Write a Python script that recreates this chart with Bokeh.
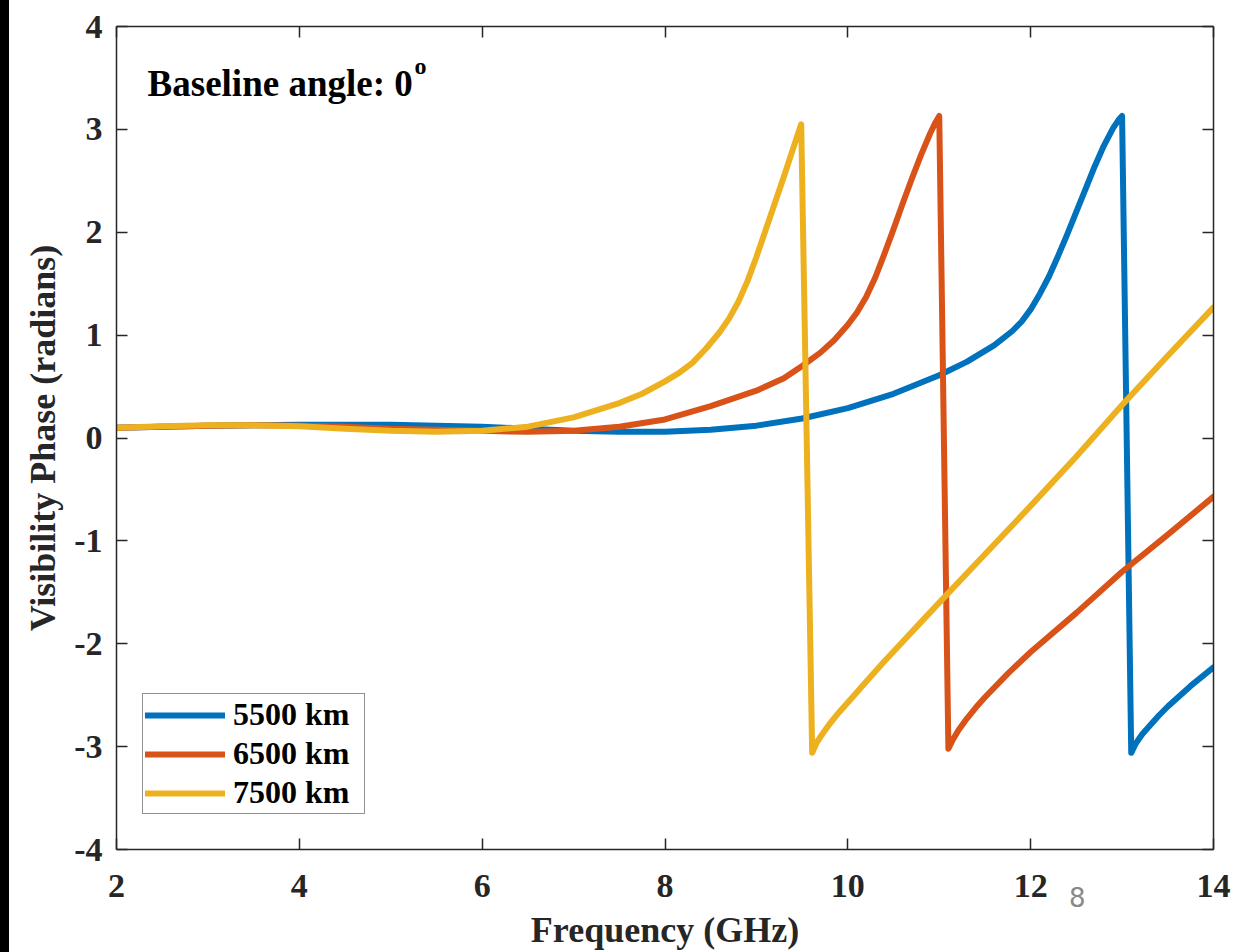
from bokeh.plotting import figure
from bokeh.models import Range1d, LinearAxis, Legend, LegendItem, Label, FixedTicker, Div
from bokeh.layouts import row
from bokeh.embed import file_html
from bokeh.resources import INLINE

# ---- data ----
freq_5500 = [2.0, 2.5, 3.0, 3.5, 4.0, 4.5, 5.0, 5.5, 6.0, 6.5, 7.0, 7.5, 8.0, 8.5, 9.0, 9.5,
             10.0, 10.5, 11.0, 11.3, 11.6, 11.8, 11.9, 12.0, 12.1, 12.2, 12.3, 12.4, 12.5,
             12.6, 12.7, 12.8, 12.9, 12.96, 13.0,
             13.1, 13.15, 13.22, 13.3, 13.4, 13.5, 13.75, 14.0]
phase_5500 = [0.10, 0.11, 0.12, 0.125, 0.13, 0.13, 0.13, 0.12, 0.11, 0.09, 0.07, 0.06, 0.06, 0.08, 0.12, 0.19,
              0.29, 0.43, 0.61, 0.74, 0.90, 1.04, 1.13, 1.25, 1.40, 1.57, 1.77, 1.98, 2.20,
              2.42, 2.64, 2.84, 3.01, 3.09, 3.13,
              -3.06, -2.97, -2.88, -2.80, -2.70, -2.61, -2.41, -2.23]

freq_6500 = [2.0, 2.5, 3.0, 3.5, 4.0, 4.5, 5.0, 5.5, 6.0, 6.5, 7.0, 7.5, 8.0, 8.5, 9.0, 9.3, 9.5,
             9.7, 9.85, 10.0, 10.1, 10.2, 10.3, 10.4, 10.5, 10.6, 10.7, 10.8, 10.9, 10.96, 11.0,
             11.1, 11.15, 11.21, 11.3, 11.4, 11.5, 11.75, 12.0, 12.5, 13.0, 13.5, 14.0]
phase_6500 = [0.10, 0.11, 0.12, 0.125, 0.12, 0.11, 0.09, 0.08, 0.07, 0.06, 0.07, 0.11, 0.18, 0.31, 0.46, 0.58, 0.70,
              0.83, 0.95, 1.10, 1.22, 1.37, 1.56, 1.79, 2.03, 2.28, 2.52, 2.75, 2.96, 3.07, 3.13,
              -3.02, -2.93, -2.84, -2.73, -2.62, -2.52, -2.29, -2.08, -1.70, -1.30, -0.94, -0.57]

freq_7500 = [2.0, 2.5, 3.0, 3.5, 4.0, 4.5, 5.0, 5.5, 6.0, 6.5, 7.0, 7.5, 7.75, 8.0, 8.15, 8.3, 8.45, 8.6,
             8.7, 8.8, 8.9, 9.0, 9.1, 9.2, 9.3, 9.4, 9.49,
             9.61, 9.66, 9.72, 9.8, 9.9, 10.0, 10.2, 10.4, 10.6, 10.8, 11.0, 11.5, 12.0, 12.5, 13.0, 13.5, 14.0]
phase_7500 = [0.10, 0.115, 0.125, 0.125, 0.115, 0.09, 0.07, 0.06, 0.07, 0.11, 0.20, 0.34, 0.43, 0.55, 0.63, 0.73, 0.87, 1.03,
              1.16, 1.32, 1.52, 1.76, 2.02, 2.28, 2.54, 2.81, 3.05,
              -3.06, -2.96, -2.88, -2.78, -2.67, -2.57, -2.37, -2.17, -1.98, -1.79, -1.60, -1.13, -0.66, -0.18, 0.32, 0.80, 1.27]

series_labels = ["5500 km", "6500 km", "7500 km"]
series_colors = ["#0072BD", "#D95319", "#EDB120"]
x_ticks = [2, 4, 6, 8, 10, 12, 14]
y_ticks = [-4, -3, -2, -1, 0, 1, 2, 3, 4]
annotation_text = "Baseline angle: 0"
page_number = "8"
page_number_x = 12.51

FONT = "Liberation Serif"
AX = "#262626"

p = figure(width=1230, height=952,
           x_range=Range1d(2, 14), y_range=Range1d(-4, 4),
           output_backend="svg", toolbar_location=None,
           min_border_left=107, min_border_right=26, min_border_top=26, min_border_bottom=103)
p.grid.visible = False
p.outline_line_color = None
p.background_fill_color = "white"
p.border_fill_color = "white"

renderers = []
for fx, ph, col in zip([freq_5500, freq_6500, freq_7500], [phase_5500, phase_6500, phase_7500], series_colors):
    r = p.line(fx, ph, line_color=col, line_width=6, line_join="round", line_cap="round")
    renderers.append(r)

def style_axis(ax, ticks, show_labels):
    ax.ticker = FixedTicker(ticks=ticks)
    ax.axis_line_color = AX
    ax.axis_line_width = 1.5
    ax.major_tick_line_color = AX
    ax.major_tick_line_width = 1.5
    ax.major_tick_in = 11
    ax.major_tick_out = 0
    ax.minor_tick_line_color = None
    ax.major_label_text_font = FONT
    ax.major_label_text_font_style = "bold"
    ax.major_label_text_color = AX
    ax.major_label_text_font_size = "34px"
    if show_labels:
        ax.major_label_overrides = {t: str(t) for t in ticks}
    else:
        ax.major_label_overrides = {t: "" for t in ticks}
        ax.major_label_standoff = 0

style_axis(p.xaxis[0], x_ticks, True)
style_axis(p.yaxis[0], y_ticks, True)
p.xaxis.major_label_standoff = 25
p.yaxis.major_label_standoff = 14
p.yaxis.axis_label = "Visibility Phase (radians)"
p.yaxis.axis_label_text_font = FONT
p.yaxis.axis_label_text_font_style = "bold"
p.yaxis.axis_label_text_font_size = "36px"
p.yaxis.axis_label_text_color = AX
p.yaxis.axis_label_standoff = 8

# second bottom axis: carries the page number and the axis title
xb = LinearAxis(ticker=FixedTicker(ticks=[page_number_x]),
                major_label_overrides={page_number_x: page_number})
xb.axis_line_color = None
xb.major_tick_line_color = None
xb.minor_tick_line_color = None
xb.major_label_text_font = "DejaVu Sans"
xb.major_label_text_font_size = "26px"
xb.major_label_text_color = "#8a8a8a"
xb.major_label_standoff = -19
xb.axis_label = "Frequency (GHz)"
xb.axis_label_text_font = FONT
xb.axis_label_text_font_style = "bold"
xb.axis_label_text_font_size = "36px"
xb.axis_label_text_color = AX
xb.axis_label_standoff = 0
p.add_layout(xb, "below")

top = LinearAxis()
style_axis(top, x_ticks, False)
p.add_layout(top, "above")
right = LinearAxis()
style_axis(right, y_ticks, False)
p.add_layout(right, "right")

legend = Legend(items=[LegendItem(label=l, renderers=[r]) for l, r in zip(series_labels, renderers)],
                location=(26, 35))
legend.label_text_font = FONT
legend.label_text_font_style = "bold"
legend.label_text_font_size = "32px"
legend.label_text_color = "black"
legend.glyph_width = 80
legend.glyph_height = 36
legend.label_height = 36
legend.label_width = 129
legend.spacing = 2
legend.padding = 2
legend.label_standoff = 8
legend.border_line_color = AX
legend.border_line_width = 1.5
legend.background_fill_color = "white"
legend.background_fill_alpha = 1
legend.margin = 0
p.add_layout(legend, "center")

lab = Label(x=2.34, y=3.45, text=annotation_text, text_font=FONT, text_font_style="bold",
            text_font_size="37px", text_color="black", text_baseline="alphabetic")
p.add_layout(lab)
sup = Label(x=5.26, y=3.62, text="o", text_font=FONT, text_font_style="bold",
            text_font_size="24px", text_color="black", text_baseline="alphabetic")
p.add_layout(sup)

stripe = Div(width=9, height=952, margin=0, styles={"background-color": "black"})
layout = row(stripe, p, spacing=0)

open("out.html", "w").write(file_html(layout, INLINE))
